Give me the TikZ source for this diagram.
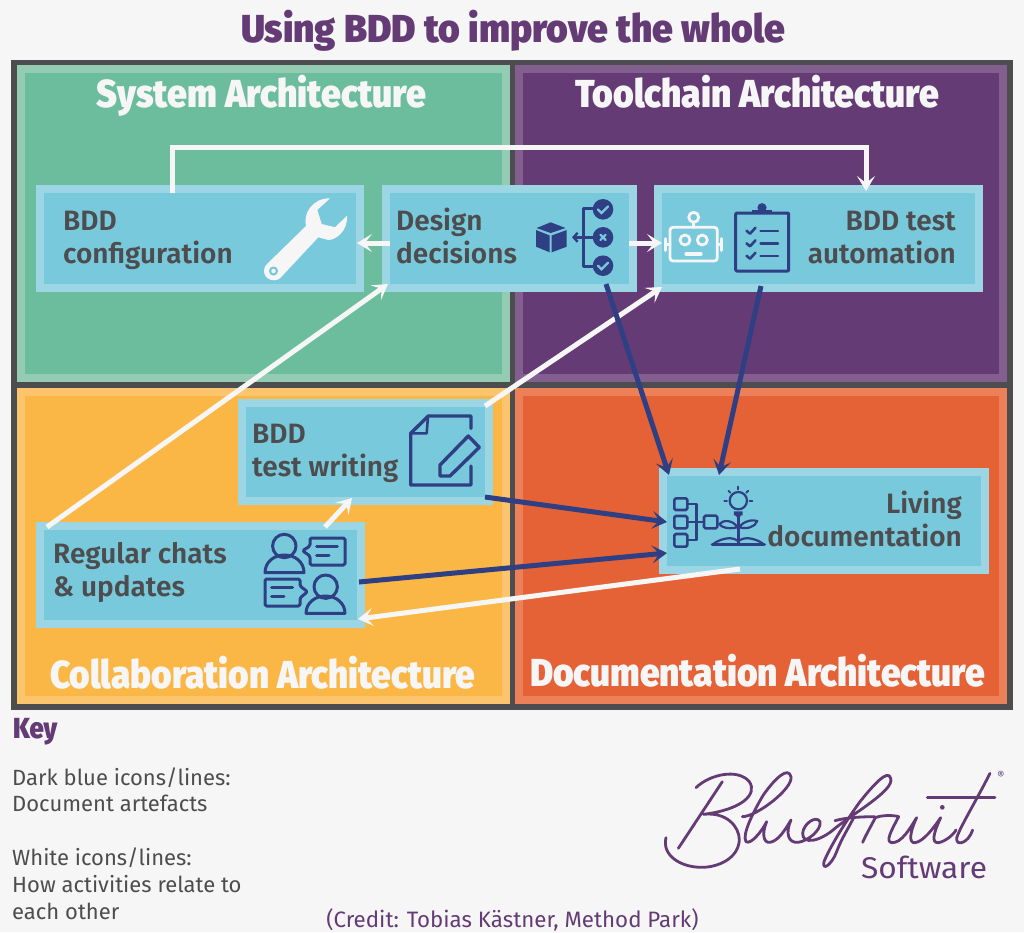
\documentclass[tikz,border=0pt]{standalone}
\usepackage{fontspec}
\usepackage{graphicx}
\setmainfont{Fira Sans}
\newfontfamily\headfont{Fira Sans Black}
\newfontfamily\boldfont{Fira Sans SemiBold}
\usetikzlibrary{arrows.meta,calc}
\definecolor{pagebg}{HTML}{F6F6F6}
\definecolor{frame}{HTML}{4D4D4F}
\definecolor{grn}{HTML}{6BBD9E}\definecolor{grnl}{HTML}{93CBB3}
\definecolor{pur}{HTML}{653B76}\definecolor{purl}{HTML}{835F90}
\definecolor{org}{HTML}{FBB745}\definecolor{orgl}{HTML}{FCC56D}
\definecolor{red}{HTML}{E56136}\definecolor{redl}{HTML}{EC8159}
\definecolor{sky}{HTML}{79C9DC}\definecolor{skyl}{HTML}{9CD5E4}
\definecolor{navy}{HTML}{2F3F83}
\definecolor{txt}{HTML}{4D4D4F}
\tikzset{
  panel/.style={rectangle,line width=8pt,inner sep=0pt,outer sep=4pt},
  bluebox/.style={rectangle,draw=skyl,fill=sky,line width=8pt,inner sep=0pt,outer sep=4pt},
  boxtext/.style={font=\boldfont\fontsize{28}{33}\selectfont,text=txt,inner sep=0pt,align=left},
  boxtextr/.style={font=\boldfont\fontsize{28}{33}\selectfont,text=txt,inner sep=0pt,align=right},
  headtext/.style={font=\headfont\fontsize{39}{39}\selectfont,text=pagebg,inner sep=0pt,anchor=base},
  whitearrow/.style={draw=pagebg,line width=5pt,-{Stealth[length=15pt,width=18pt,inset=7pt]}},
  bluearrow/.style={draw=navy,line width=5pt,-{Stealth[length=15pt,width=18pt,inset=7pt]}},
  darkicon/.style={draw=navy,line width=3pt,line join=round,line cap=round},
  whiteicon/.style={draw=pagebg,line width=2.8pt,line join=round,line cap=round},
  logoline/.style={draw=pur,line width=2.8pt,line cap=round,line join=round},
}
\newcommand{\fitw}[2]{\resizebox{#1pt}{\height}{#2}}
\begin{document}
\begin{tikzpicture}[x=1pt,y=-1pt]
\useasboundingbox (0,0) rectangle (1024,932);
\fill[pagebg] (0,0) rectangle (1024,932);
\fill[frame] (11,60) rectangle (1013,710);
% panels
\node[panel,draw=grnl,fill=grn,minimum width=485pt,minimum height=309pt] (sys) at (263.5,223.5) {};
\node[panel,draw=purl,fill=pur,minimum width=484pt,minimum height=309pt] (tool) at (761,223.5) {};
\node[panel,draw=orgl,fill=org,minimum width=485pt,minimum height=308pt] (coll) at (263.5,546) {};
\node[panel,draw=redl,fill=red,minimum width=484pt,minimum height=308pt] (docu) at (761,546) {};
% headings
\node[font=\headfont\fontsize{39}{39}\selectfont,text=pur,inner sep=0pt,anchor=base] (title) at (513,42) {\fitw{544}{Using BDD to improve the whole}};
\node[headtext] (hsys) at (261.5,107) {\fitw{329}{System Architecture}};
\node[headtext] (htool) at (757,107) {\fitw{364}{Toolchain Architecture}};
\node[headtext] (hcoll) at (262.5,688) {\fitw{425}{Collaboration Architecture}};
\node[headtext] (hdocu) at (757.5,686) {\fitw{455}{Documentation Architecture}};
% boxes
\node[bluebox,minimum width=320pt,minimum height=99pt] (cfg) at (200,238.5) {};
\node[bluebox,minimum width=247pt,minimum height=99pt] (dsg) at (509.5,238.5) {};
\node[bluebox,minimum width=321pt,minimum height=99pt] (tst) at (818.5,238.5) {};
\node[bluebox,minimum width=247pt,minimum height=98pt] (wrt) at (365.5,452) {};
\node[bluebox,minimum width=321pt,minimum height=98pt] (chat) at (200.5,575) {};
\node[bluebox,minimum width=322pt,minimum height=98pt] (liv) at (824,521) {};
% box labels
\node[boxtext,anchor=base west] (tcfg) at (63,263) {BDD\\configuration};
\node[boxtext,anchor=base west] (tdsg) at (396,263) {Design\\decisions};
\node[boxtextr,anchor=base east] (ttst) at (956,263) {BDD test\\automation};
\node[boxtext,anchor=base west] (twrt) at (252,476) {BDD\\test writing};
\node[boxtext,anchor=base west] (tchat) at (53,596) {Regular chats\\\& updates};
\node[boxtextr,anchor=base east] (tliv) at (962,546) {Living\\documentation};
% white connectors
\draw[whitearrow] ($(cfg.north west)+(136,8)$) -- ($(cfg.north west)+(136,-38)$) -- ($(tst.north west)+(212,-38)$) -- ($(tst.north west)+(212,6)$);
\draw[whitearrow] ($(dsg.north west)+(8,58)$) -- ($(cfg.north east)+(-7,58)$);
\draw[whitearrow] ($(dsg.north east)+(-8,58)$) -- ($(tst.north west)+(8,58)$);
\draw[whitearrow] ($(chat.north west)+(11,5)$) -- ($(dsg.south west)+(6,-8)$);
\draw[whitearrow] ($(wrt.north east)+(-8,7)$) -- ($(tst.south west)+(8,-5)$);
\draw[whitearrow] ($(chat.north west)+(289,5)$) -- ($(wrt.south west)+(114,-7)$);
\draw[whitearrow] ($(liv.south west)+(81,-5)$) -- ($(chat.south east)+(-7,-9)$);
% blue connectors
\draw[bluearrow] ($(dsg.south west)+(224,-8)$) -- ($(liv.north west)+(10,7)$);
\draw[bluearrow] ($(tst.south west)+(107,-6)$) -- ($(liv.north west)+(60,7)$);
\draw[bluearrow] ($(wrt.south east)+(-8,-8)$) -- ($(liv.north west)+(8,54)$);
\draw[bluearrow] ($(chat.north east)+(-6,60)$) -- ($(liv.north west)+(8,85)$);
% wrench
\fill[pagebg] (330,198.3) -- (317.3,210) -- (321.7,224) -- (335,227.3) -- (347,215.7) .. controls (348,232) and (335,240) .. (328.3,240) -- (318.3,237.3) -- (280,278.3) .. controls (274,283) and (264,279) .. (264,271) .. controls (264,268) and (265,266) .. (267,264) -- (306,226) .. controls (303,214) and (312,198) .. cycle;
\fill[sky] (273.5,271) circle (4.6);
\fill[pagebg] (273.5,271) circle (2.2);
% design decisions icon
\fill[navy] (550.7,222.3) -- (565.5,228) -- (550.7,233) -- (536.5,228) -- cycle;
\fill[navy] (536,230) -- (549.7,235.5) -- (549.7,252.3) -- (536,246.7) -- cycle;
\fill[navy] (566.7,230) -- (551.7,235.5) -- (551.7,252.3) -- (566.7,246.7) -- cycle;
\draw[darkicon,line width=2.4pt] (595,208.5) -- (583.3,208.5) -- (583.3,266.3) -- (595,266.3);
\draw[darkicon,line width=2.4pt,-{Straight Barb[length=4pt,width=9pt]}] (595,237.3) -- (572,237.3);
\fill[navy] (603,209.3) circle (10.3) (603,237.3) circle (10.3) (603,265.7) circle (10.3);
\draw[sky,line width=2.2pt,line cap=round] (598,209.5) -- (601.5,213) -- (608,206.5) (598,265.7) -- (601.5,269.2) -- (608,262.7) (600.3,234.6) -- (605.7,240) (605.7,234.6) -- (600.3,240);
% robot
\draw[whiteicon,rounded corners=3pt] (670,227.3) rectangle (717.3,261);
\draw[whiteicon] (693.7,222.3) -- (693.7,227.3);
\draw[whiteicon] (693.7,217.3) circle (5);
\draw[whiteicon] (685,240) circle (5) (702.3,240) circle (5);
\draw[whiteicon,line width=3.2pt] (686,254) -- (701,254);
\draw[whiteicon,line width=3pt] (665.7,238.5) -- (665.7,250.5) (721.7,238.5) -- (721.7,250.5);
\draw[whiteicon] (665.7,244.5) -- (670,244.5) (717.3,244.5) -- (721.7,244.5);
% clipboard
\draw[darkicon,line width=3pt,rounded corners=1pt] (735.7,213) rectangle (788.7,271);
\fill[navy] (752.3,209.5) rectangle (772.3,214);
\fill[navy] (762,207.7) circle (4.6);
\foreach \yy in {230.7,243.3,255.7}{
  \draw[darkicon,line width=2.6pt] (746.5,\yy) -- (750,\yy+3) -- (755.5,\yy-3);
  \draw[darkicon,line width=2.4pt] (760.5,\yy) -- (778,\yy);
}
% note icon
\draw[darkicon,line width=3.4pt] (471,428.3) -- (471,416) -- (428.3,416) -- (410.7,433.3) -- (410.7,485) -- (471,485) -- (471,466);
\draw[darkicon,line width=2.6pt] (428,416) -- (426.7,433.3) -- (410.7,433.3);
\draw[darkicon,line width=3.4pt] (468.3,436) -- (479.3,447.3) -- (450,476) -- (440,476) -- (440,465) -- cycle;
% chat icon
\draw[darkicon] (284.3,546) circle (11.7);
\draw[darkicon] (265,572.7) .. controls (265,562) and (274,555) .. (284.5,555) .. controls (295,555) and (304,562) .. (304,572.7) -- cycle;
\draw[darkicon,rounded corners=1.5pt] (310,546) -- (310,538) -- (345,538) -- (345,565) -- (310,565) -- (310,556) -- (302.5,550.7) -- cycle;
\draw[darkicon] (316.7,546.7) -- (337.3,546.7) (316.7,555.3) -- (329,555.3);
\draw[darkicon] (325.7,586.7) circle (11.7);
\draw[darkicon] (306,613.3) .. controls (306,603) and (315,596) .. (325.5,596) .. controls (336,596) and (345,603) .. (345,613.3) -- cycle;
\draw[darkicon,rounded corners=1.5pt] (300,586) -- (300,579) -- (265,579) -- (265,606) -- (300,606) -- (300,598) -- (307.5,591.7) -- cycle;
\draw[darkicon] (271.7,587.3) -- (292.7,587.3) (271.7,596) -- (284,596);
% living documentation icon
\begin{scope}[shift={(510,450)},x=0.3333pt,y=-0.3333pt]
\draw[darkicon,line width=2.6pt,rounded corners=1.5pt] (493,145) rectangle (532,180) (493,198) rectangle (532,235) (493,252) rectangle (532,290) (582,197) rectangle (622,235);
\draw[darkicon,line width=2.4pt] (532,162) -- (560,162) -- (560,270) -- (532,270) (532,216) -- (582,216);
\draw[darkicon,line width=2.2pt] (685,152) circle (26);
\fill[navy] (672,184) rectangle (698,196) (676,196) -- (694,196) -- (685,206) -- cycle;
\foreach \aa in {-135,-90,-45,0,180}{
  \draw[darkicon,line width=1.8pt] (685,152) +(\aa:34) -- +(\aa:42);
}
\draw[darkicon,line width=2.4pt] (685,200) -- (685,282);
\draw[darkicon,line width=2.2pt] (628,222) .. controls (640,208) and (670,210) .. (682,232) .. controls (655,238) and (635,233) .. cycle;
\draw[darkicon,line width=2.2pt] (742,213) .. controls (730,208) and (700,212) .. (688,232) .. controls (710,238) and (735,232) .. cycle;
\draw[darkicon,line width=2.2pt] (612,280) .. controls (640,262) and (670,260) .. (685,274) .. controls (700,260) and (730,262) .. (758,280);
\draw[darkicon,line width=3.6pt] (607,284) -- (763,284);
\end{scope}
% key
\node[font=\headfont\fontsize{29}{29}\selectfont,text=pur,inner sep=0pt,anchor=base west] (keyh) at (13,738) {\fitw{44}{Key}};
\node[font=\fontsize{22}{26.8}\selectfont,text=txt,inner sep=0pt,anchor=base west,align=left] (keyt) at (12,919) {Dark blue icons/lines:\\Document artefacts\\[26.8pt]White icons/lines:\\How activities relate to\\each other};
\node[font=\fontsize{22.3}{26}\selectfont,text=pur,inner sep=0pt,anchor=base] (credit) at (512.5,927) {(Credit: Tobias Kästner, Method Park)};
% logo
\begin{scope}[shift={(640,750)},x=0.3333pt,y=-0.3333pt]
\draw[logoline] (168,113) .. controls (210,72) and (295,55) .. (328,95) .. controls (355,135) and (300,180) .. (190,193) .. controls (260,185) and (298,230) .. (298,270) .. controls (295,325) and (235,352) .. (185,352) .. controls (120,352) and (65,315) .. (78,263);
\draw[logoline] (247,95) -- (115,295);
\draw[logoline] (307,200) .. controls (350,200) and (460,115) .. (453,80) .. controls (445,48) and (405,85) .. (370,135) .. controls (340,185) and (305,255) .. (318,275) .. controls (332,285) and (365,245) .. (380,215) .. controls (365,250) and (370,280) .. (390,277) .. controls (415,273) and (435,240) .. (453,210) .. controls (435,250) and (445,280) .. (475,277) .. controls (505,272) and (545,240) .. (540,215) .. controls (530,195) and (490,220) .. (488,250) .. controls (487,285) and (540,275) .. (585,235) .. controls (640,190) and (765,120) .. (752,85) .. controls (745,55) and (700,105) .. (660,155) .. controls (620,210) and (570,290) .. (552,335) .. controls (545,365) and (575,345) .. (590,305) .. controls (605,265) and (625,235) .. (640,205);
\draw[logoline] (585,212) .. controls (620,202) and (670,200) .. (705,200);
\draw[logoline] (668,277) .. controls (680,250) and (695,225) .. (706,203) .. controls (725,195) and (760,195) .. (776,200) .. controls (755,240) and (735,275) .. (755,278) .. controls (785,280) and (810,235) .. (830,203) .. controls (810,245) and (805,280) .. (825,278) .. controls (850,275) and (880,235) .. (902,203) .. controls (885,240) and (870,280) .. (895,278) .. controls (915,275) and (940,255) .. (948,240);
\draw[logoline] (1050,70) .. controls (1010,150) and (955,240) .. (950,265) .. controls (948,290) and (985,280) .. (998,240);
\draw[logoline] (862,142) -- (1065,142);
\fill[pur] (907,172) circle (7);
\end{scope}
\node[font=\fontsize{11}{11}\selectfont,text=pur,inner sep=0pt] (reg) at (1001,775) {®};
\node[font=\fontsize{30}{30}\selectfont,text=pur,inner sep=0pt,anchor=base] (soft) at (924,878) {\fitw{126}{Software}};
\end{tikzpicture}
\end{document}
